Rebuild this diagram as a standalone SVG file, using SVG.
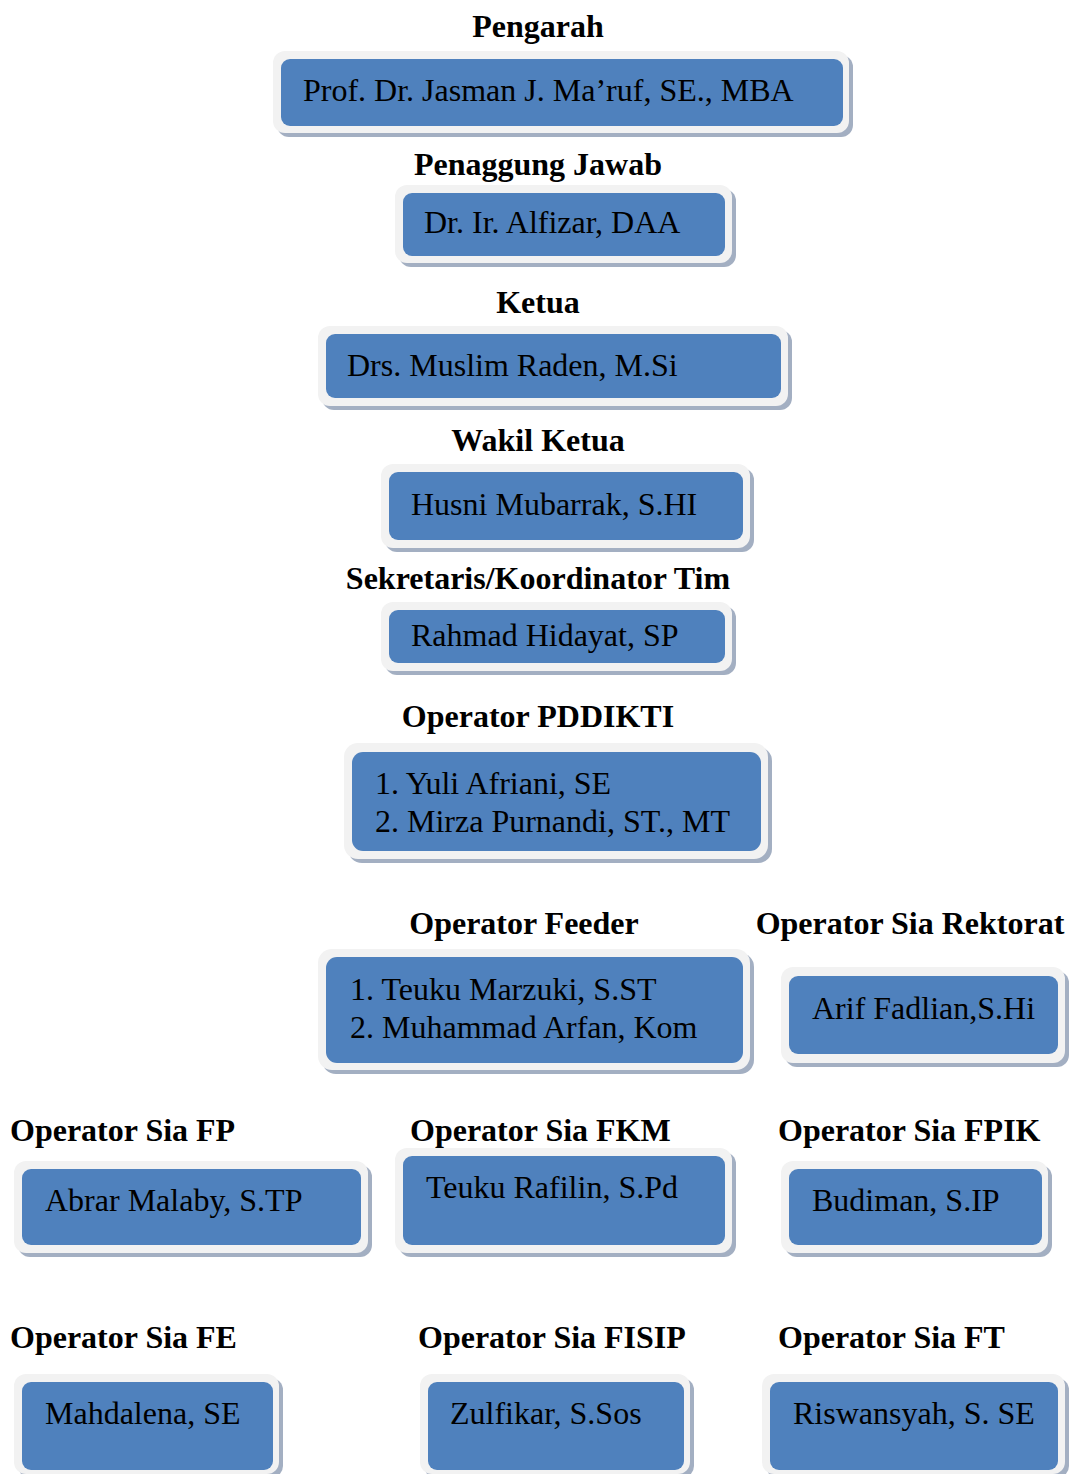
<svg xmlns="http://www.w3.org/2000/svg" width="1071" height="1474" viewBox="0 0 1071 1474">
<defs>
<style>
.t{font-family:"Liberation Serif","Times New Roman",serif;font-weight:bold;font-size:32px;fill:#000}
.n{font-family:"Liberation Serif","Times New Roman",serif;font-size:32px;fill:#000}
.sh{fill:#a3afc2}
.o{fill:#f2f2f2}
.i{fill:#4f81bd}
</style>
</defs>
<rect width="1071" height="1474" fill="#fff"/>
<g id="connectors"></g>

<g id="pengarah">
<text class="t" x="538" y="37" text-anchor="middle">Pengarah</text>
<rect class="sh" x="277" y="55" width="576" height="82" rx="12"/>
<rect class="o" x="273" y="51" width="576" height="82" rx="12"/>
<rect class="i" x="281" y="59" width="562" height="67" rx="9"/>
<text class="n" x="303" y="101">Prof. Dr. Jasman J. Ma’ruf, SE., MBA</text>
</g>

<g id="penanggung">
<text class="t" x="538" y="175" text-anchor="middle">Penaggung Jawab</text>
<rect class="sh" x="399" y="189" width="337" height="78" rx="12"/>
<rect class="o" x="395" y="185" width="337" height="78" rx="12"/>
<rect class="i" x="403" y="193" width="322" height="63" rx="9"/>
<text class="n" x="424" y="233">Dr. Ir. Alfizar, DAA</text>
</g>

<g id="ketua">
<text class="t" x="538" y="313" text-anchor="middle">Ketua</text>
<rect class="sh" x="322" y="330" width="470" height="80" rx="12"/>
<rect class="o" x="318" y="326" width="470" height="80" rx="12"/>
<rect class="i" x="326" y="334" width="455" height="64" rx="9"/>
<text class="n" x="347" y="376">Drs. Muslim Raden, M.Si</text>
</g>

<g id="wakil">
<text class="t" x="538" y="451" text-anchor="middle">Wakil Ketua</text>
<rect class="sh" x="385" y="468" width="369" height="84" rx="12"/>
<rect class="o" x="381" y="464" width="369" height="84" rx="12"/>
<rect class="i" x="389" y="472" width="354" height="68" rx="9"/>
<text class="n" x="411" y="515">Husni Mubarrak, S.HI</text>
</g>

<g id="sekretaris">
<text class="t" x="538" y="589" text-anchor="middle">Sekretaris/Koordinator Tim</text>
<rect class="sh" x="385" y="606" width="351" height="69" rx="12"/>
<rect class="o" x="381" y="602" width="351" height="69" rx="12"/>
<rect class="i" x="389" y="610" width="336" height="53" rx="9"/>
<text class="n" x="411" y="646">Rahmad Hidayat, SP</text>
</g>

<g id="pddikti">
<text class="t" x="538" y="727" text-anchor="middle">Operator PDDIKTI</text>
<rect class="sh" x="348" y="747" width="424" height="116" rx="14"/>
<rect class="o" x="344" y="743" width="424" height="116" rx="14"/>
<rect class="i" x="352" y="752" width="409" height="99" rx="11"/>
<text class="n" x="375" y="794">1. Yuli Afriani, SE</text>
<text class="n" x="375" y="832">2. Mirza Purnandi, ST., MT</text>
</g>

<g id="feeder">
<text class="t" x="524" y="934" text-anchor="middle">Operator Feeder</text>
<rect class="sh" x="322" y="953" width="432" height="121" rx="14"/>
<rect class="o" x="318" y="949" width="432" height="121" rx="14"/>
<rect class="i" x="326" y="957" width="417" height="106" rx="11"/>
<text class="n" x="350" y="1000">1. Teuku Marzuki, S.ST</text>
<text class="n" x="350" y="1038">2. Muhammad Arfan, Kom</text>
</g>

<g id="rektorat">
<text class="t" x="910" y="934" text-anchor="middle">Operator Sia Rektorat</text>
<rect class="sh" x="785" y="971" width="284" height="96" rx="12"/>
<rect class="o" x="781" y="967" width="284" height="96" rx="12"/>
<rect class="i" x="789" y="976" width="269" height="78" rx="9"/>
<text class="n" x="812" y="1019">Arif Fadlian,S.Hi</text>
</g>

<g id="fp">
<text class="t" x="10" y="1141">Operator Sia FP</text>
<rect class="sh" x="18" y="1165" width="354" height="92" rx="12"/>
<rect class="o" x="14" y="1161" width="354" height="92" rx="12"/>
<rect class="i" x="22" y="1169" width="339" height="76" rx="9"/>
<text class="n" x="45" y="1211">Abrar Malaby, S.TP</text>
</g>

<g id="fkm">
<text class="t" x="410" y="1141">Operator Sia FKM</text>
<rect class="sh" x="399" y="1152" width="337" height="105" rx="12"/>
<rect class="o" x="395" y="1148" width="337" height="105" rx="12"/>
<rect class="i" x="403" y="1156" width="322" height="89" rx="9"/>
<text class="n" x="426" y="1198">Teuku Rafilin, S.Pd</text>
</g>

<g id="fpik">
<text class="t" x="778" y="1141">Operator Sia FPIK</text>
<rect class="sh" x="785" y="1165" width="267" height="92" rx="12"/>
<rect class="o" x="781" y="1161" width="267" height="92" rx="12"/>
<rect class="i" x="789" y="1169" width="253" height="76" rx="9"/>
<text class="n" x="812" y="1211">Budiman, S.IP</text>
</g>

<g id="fe">
<text class="t" x="10" y="1348">Operator Sia FE</text>
<rect class="sh" x="18" y="1378" width="265" height="100" rx="12"/>
<rect class="o" x="14" y="1374" width="265" height="100" rx="12"/>
<rect class="i" x="22" y="1382" width="251" height="88" rx="9"/>
<text class="n" x="45" y="1424">Mahdalena, SE</text>
</g>

<g id="fisip">
<text class="t" x="418" y="1348">Operator Sia FISIP</text>
<rect class="sh" x="424" y="1378" width="270" height="100" rx="12"/>
<rect class="o" x="420" y="1374" width="270" height="100" rx="12"/>
<rect class="i" x="428" y="1382" width="256" height="88" rx="9"/>
<text class="n" x="450" y="1424">Zulfikar, S.Sos</text>
</g>

<g id="ft">
<text class="t" x="778" y="1348">Operator Sia FT</text>
<rect class="sh" x="766" y="1378" width="303" height="100" rx="12"/>
<rect class="o" x="762" y="1374" width="303" height="100" rx="12"/>
<rect class="i" x="770" y="1382" width="288" height="88" rx="9"/>
<text class="n" x="793" y="1424">Riswansyah, S. SE</text>
</g>
</svg>
